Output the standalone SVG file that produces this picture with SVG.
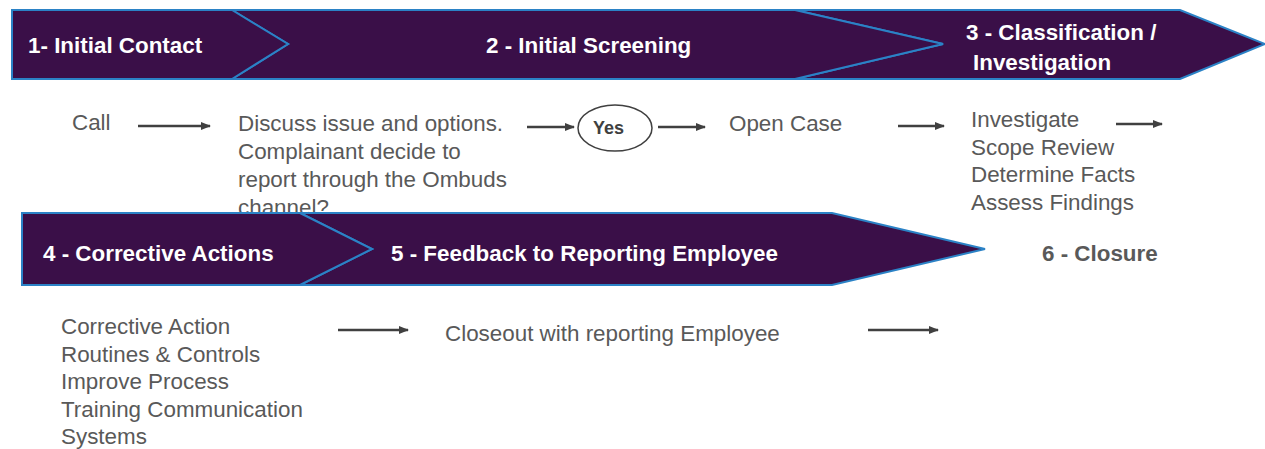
<svg xmlns="http://www.w3.org/2000/svg" width="1265" height="449" viewBox="0 0 1265 449">
<style>
.band{fill:#3A0F48;stroke:#2B82C6;stroke-width:2;stroke-linejoin:miter}
.h{font-family:"Liberation Sans",Arial,sans-serif;font-weight:bold;font-size:22.4px;fill:#FFFFFF}
.t{font-family:"Liberation Sans",Arial,sans-serif;font-size:22.4px;fill:#595959}
.c{stroke:#404040;stroke-width:2.5;fill:none;marker-end:url(#ah)}
</style>
<defs>
<marker id="ah" viewBox="0 0 10 10" refX="9" refY="5" markerWidth="4" markerHeight="4" orient="auto" markerUnits="strokeWidth">
<path d="M0,1 L10,5 L0,9 Z" fill="#404040"/>
</marker>
</defs>
<rect width="1265" height="449" fill="#FFFFFF"/>
<g id="texts-row1">
<text class="t" x="72" y="130">Call</text>
<text class="t" x="238" y="131">Discuss issue and options.</text>
<text class="t" x="238" y="159">Complainant decide to</text>
<text class="t" x="238" y="187">report through the Ombuds</text>
<text class="t" x="238" y="215">channel?</text>
<text class="t" x="729" y="131">Open Case</text>
<text class="t" x="971" y="127">Investigate</text>
<text class="t" x="971" y="155">Scope Review</text>
<text class="t" x="971" y="182">Determine Facts</text>
<text class="t" x="971" y="210">Assess Findings</text>
</g>
<g id="stage3">
<polygon class="band" points="795,10 1180,10 1265,44 1180,79 795,79 943,44"/>
<text class="h" x="966" y="40">3 - Classification /</text>
<text class="h" x="973" y="70">Investigation</text>
</g>
<g id="stage2">
<polygon class="band" points="232,10 795,10 943,44 795,79 232,79 288,44"/>
<text class="h" x="486" y="53">2 - Initial Screening</text>
</g>
<g id="stage1">
<polygon class="band" points="12,10 232,10 288,44 232,79 12,79"/>
<text class="h" x="28" y="53">1- Initial Contact</text>
</g>
<g id="stage5">
<polygon class="band" points="300,213 832,213 985,249 832,285 300,285 372,249"/>
<text class="h" x="391" y="261">5 - Feedback to Reporting Employee</text>
</g>
<g id="stage4">
<polygon class="band" points="22,213 300,213 372,249 300,285 22,285"/>
<text class="h" x="43" y="261">4 - Corrective Actions</text>
</g>
<g id="stage6">
<text class="h" x="1042" y="261" style="fill:#595959">6 - Closure</text>
</g>
<g id="yes">
<ellipse cx="615" cy="128" rx="37" ry="23" fill="#FFFFFF" stroke="#404040" stroke-width="1.5"/>
<text x="593" y="134" style="font-family:'Liberation Sans',Arial,sans-serif;font-weight:bold;font-size:18px;fill:#404040">Yes</text>
</g>
<g id="texts-row3">
<text class="t" x="61" y="334">Corrective Action</text>
<text class="t" x="61" y="362">Routines &amp; Controls</text>
<text class="t" x="61" y="389">Improve Process</text>
<text class="t" x="61" y="417">Training Communication</text>
<text class="t" x="61" y="444">Systems</text>
<text class="t" x="445" y="341">Closeout with reporting Employee</text>
</g>
<g id="connectors">
<line class="c" x1="138" y1="126" x2="210" y2="126"/>
<line class="c" x1="527" y1="127" x2="574" y2="127"/>
<line class="c" x1="658" y1="127" x2="705" y2="127"/>
<line class="c" x1="898" y1="126" x2="944" y2="126"/>
<line class="c" x1="1116" y1="124" x2="1162" y2="124"/>
<line class="c" x1="338" y1="330" x2="408" y2="330"/>
<line class="c" x1="868" y1="330" x2="938" y2="330"/>
</g>
</svg>
